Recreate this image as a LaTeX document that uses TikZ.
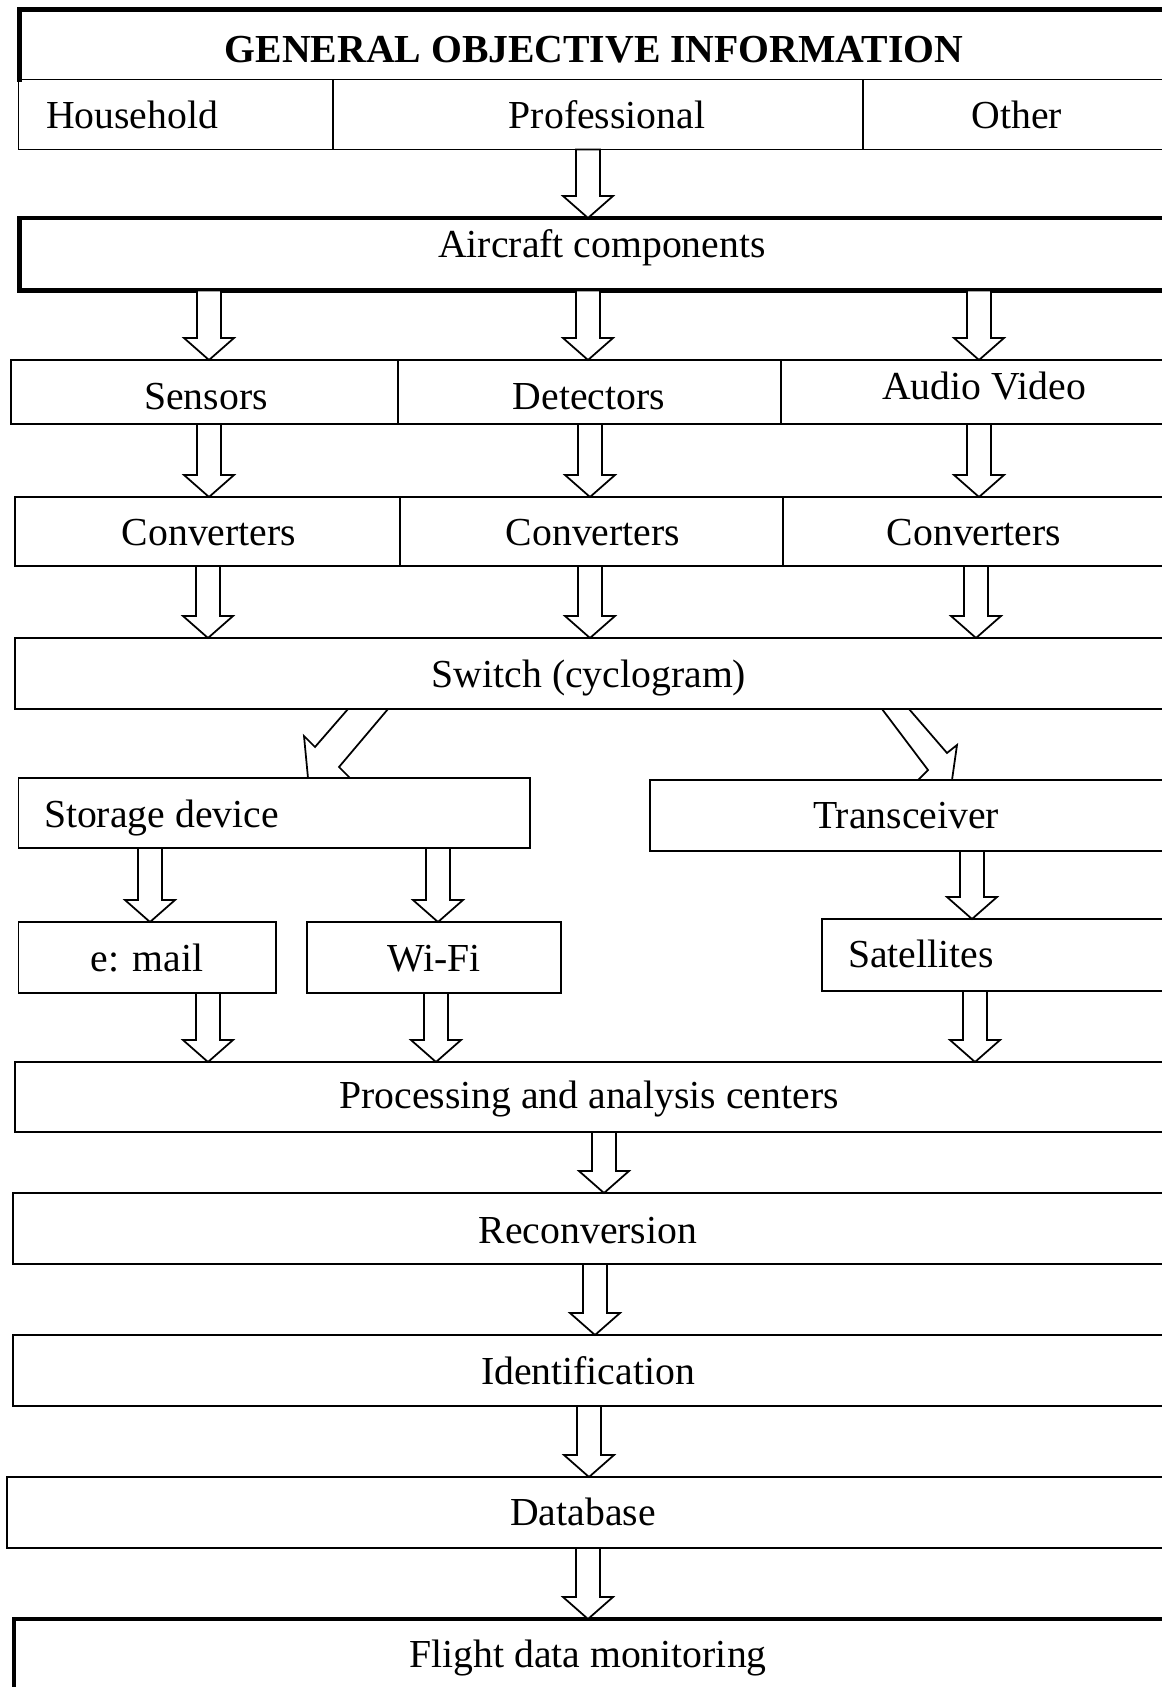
\documentclass[tikz,border=0pt]{standalone}
\usepackage{fontspec}
\setmainfont{Liberation Serif}
\usetikzlibrary{fit,calc}
\newcommand\varrow[3]{% #1 = x centre, #2 = from node, #3 = to node
  \draw[barrow] (#1-12,0 |- #2.south) -- ($(#1-12,0 |- #3.north)+(0,-22)$)
    -- ($(#1-25,0 |- #3.north)+(0,-22)$) -- (#1,0 |- #3.north)
    -- ($(#1+25,0 |- #3.north)+(0,-22)$) -- ($(#1+12,0 |- #3.north)+(0,-22)$)
    -- (#1+12,0 |- #2.south) -- cycle;}
\begin{document}
\begin{tikzpicture}[x=0.02cm,y=-0.02cm,
  box/.style={draw, line width=1.1pt, inner sep=0pt, outer sep=0pt},
  thickbox/.style={draw, line width=2.8pt, inner sep=0pt, outer sep=0pt},
  lbl/.style={anchor=base, inner sep=0pt, outer sep=0pt, font=\fontsize{22.6}{27}\selectfont},
  barrow/.style={draw, line width=1pt, fill=white, line join=miter}]
\useasboundingbox (0,0) rectangle (1161,1687);

% title block
\node[box, draw=none, fit={(19.5,9.5) (1175,79.5)}] (title) {};
\draw[line width=2.8pt, line cap=rect] (title.south west) -- (title.north west) -- (title.north east);
\node[box, fit={(18.5,79.5) (333,149.5)}] (house) {};
\node[box, fit={(333,79.5) (863,149.5)}] (prof) {};
\node[box, fit={(863,79.5) (1175,149.5)}] (other) {};
\node[lbl] (t-title) at (594,62) {\bfseries GENERAL OBJECTIVE INFORMATION};
\node[lbl, anchor=base west] (t-house) at (46,128) {Household};
\node[lbl] (t-prof) at (607,128) {Professional};
\node[lbl] (t-other) at (1017,128) {Other};

% aircraft components
\node[thickbox, fit={(19.8,218) (1175,290.5)}] (air) {};
\node[lbl] (t-air) at (602,257) {Aircraft components};

% row 3
\node[box, fit={(11,360) (398,424)}] (sens) {};
\node[box, fit={(398,360) (781,424)}] (det) {};
\node[box, fit={(781,360) (1175,424)}] (av) {};
\node[lbl] (t-sens) at (206,409) {Sensors};
\node[lbl] (t-det) at (589,409) {Detectors};
\node[lbl] (t-av) at (984,399) {Audio Video};

% converters
\node[box, fit={(15,497) (400,566)}] (conv1) {};
\node[box, fit={(400,497) (783,566)}] (conv2) {};
\node[box, fit={(783,497) (1175,566)}] (conv3) {};
\node[lbl] (t-conv1) at (209,545) {Converters};
\node[lbl] (t-conv2) at (593,545) {Converters};
\node[lbl] (t-conv3) at (974,545) {Converters};

% switch
\node[box, fit={(15,638) (1175,709)}] (sw) {};
\node[lbl] (t-sw) at (589,687) {Switch (cyclogram)};

% storage / transceiver
\node[box, fit={(18.5,778) (530,848)}] (stor) {};
\node[box, fit={(650,780) (1175,851)}] (trans) {};
\node[lbl, anchor=base west] (t-stor) at (44,827) {Storage device};
\node[lbl] (t-trans) at (906,828) {Transceiver};

% email / wifi / satellites
\node[box, fit={(18.5,922) (276,993)}] (mail) {};
\node[box, fit={(307,922) (561,993)}] (wifi) {};
\node[box, fit={(822,919) (1175,991)}] (sat) {};
\node[lbl] (t-mail) at (147,971) {e: mail};
\node[lbl] (t-wifi) at (434,971) {Wi-Fi};
\node[lbl, anchor=base west] (t-sat) at (848,967) {Satellites};

% lower chain
\node[box, fit={(15,1062) (1175,1132)}] (proc) {};
\node[lbl] (t-proc) at (589,1108) {Processing and analysis centers};
\node[box, fit={(13,1193) (1175,1264)}] (recon) {};
\node[lbl] (t-recon) at (588,1243) {Reconversion};
\node[box, fit={(13,1335) (1175,1406)}] (ident) {};
\node[lbl] (t-ident) at (588,1384) {Identification};
\node[box, fit={(7,1477) (1175,1548)}] (db) {};
\node[lbl] (t-db) at (583,1525) {Database};
\node[thickbox, fit={(14,1619) (1175,1720)}] (fdm) {};
\node[lbl] (t-fdm) at (588,1667) {Flight data monitoring};

% block arrows
\varrow{588}{prof}{air}
\varrow{209}{air}{sens}
\varrow{588}{air}{det}
\varrow{979}{air}{av}
\varrow{209}{sens}{conv1}
\varrow{590}{det}{conv2}
\varrow{979}{av}{conv3}
\varrow{208}{conv1}{sw}
\varrow{590}{conv2}{sw}
\varrow{976}{conv3}{sw}
\varrow{150}{stor}{mail}
\varrow{438}{stor}{wifi}
\varrow{972}{trans}{sat}
\varrow{208}{mail}{proc}
\varrow{436}{wifi}{proc}
\varrow{975}{sat}{proc}
\varrow{604}{proc}{recon}
\varrow{595}{recon}{ident}
\varrow{589}{ident}{db}
\varrow{588}{db}{fdm}

% diagonal arrows
\draw[barrow] (348,0 |- sw.south) -- (315,747) -- (304,736) -- (308,0 |- stor.north)
  -- (350,0 |- stor.north) -- (339,767) -- (388,0 |- sw.south) -- cycle;
\draw[barrow] (882,0 |- sw.south) -- (928,770) -- (918,0 |- trans.north)
  -- (952,0 |- trans.north) -- (957,745) -- (947,753) -- (909,0 |- sw.south) -- cycle;
\end{tikzpicture}
\end{document}
